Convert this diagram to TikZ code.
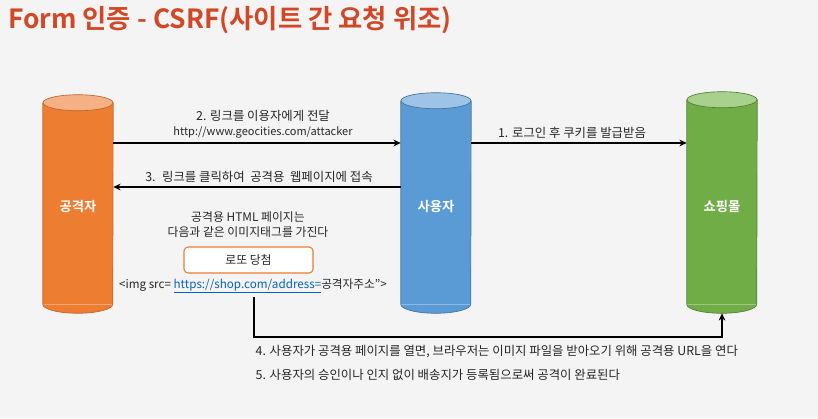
\documentclass[tikz,border=0pt]{standalone}
\usepackage{fontspec}
\setmainfont{Noto Sans CJK KR}[BoldFont={Noto Sans CJK KR Bold}]
\usepackage{tikz}
\usetikzlibrary{calc, positioning, arrows.meta}
\definecolor{bgGray}{HTML}{F4F4F4}
\definecolor{titleRed}{HTML}{D24726}
\definecolor{atkBody}{HTML}{ED7D31}
\definecolor{atkCap}{HTML}{F4B183}
\definecolor{atkLine}{HTML}{C0652A}
\definecolor{usrBody}{HTML}{5B9BD5}
\definecolor{usrCap}{HTML}{9DC3E6}
\definecolor{usrLine}{HTML}{41719C}
\definecolor{shopBody}{HTML}{70AD47}
\definecolor{shopCap}{HTML}{A9D18E}
\definecolor{shopLine}{HTML}{507E32}
\definecolor{linkBlue}{HTML}{0563C1}
\begin{document}
\begin{tikzpicture}[x=0.75pt, y=-0.75pt, >={Stealth[length=5.5pt, width=5pt]},
    font=\fontsize{9.3}{11.25}\selectfont, text=black!85,
    flow/.style={->, line width=0.9pt, black}]
  \fill[bgGray] (0,0) rectangle (818,418);
  \useasboundingbox (0,0) rectangle (818,418);
  % Title
  \node[anchor=west, inner sep=0, text=titleRed, font=\fontsize{19.8}{22}\selectfont\bfseries] (title) at (8,20) {Form 인증 - CSRF(사이트 간 요청 위조)};
  % Cylinders
  \foreach \name/\cx/\ytop/\clr/\lbl in {attacker/78/103/atk/공격자, user/436/101/usr/사용자, shop/722/100/shop/쇼핑몰}{
    \node[fill=\clr Body, inner sep=0, minimum width=52.5pt, minimum height={(304-\ytop)*0.75pt}] (\name) at (\cx, {(\ytop+304)/2}) {};
    \fill[\clr Body] (\name.south west) arc[start angle=180, end angle=0, x radius=35, y radius=9];
    \draw[\clr Line, line width=0.5pt] (\name.north west) -- (\name.south west) arc[start angle=180, end angle=0, x radius=35, y radius=9] -- (\name.north east);
    \draw[\clr Line, fill=\clr Cap, line width=0.5pt] (\name.north) ellipse[x radius=35, y radius=8];
    \node[text=white, font=\fontsize{10}{12}\selectfont\bfseries] (\name-lbl) at (\cx, 207) {\lbl};
  }
  % Messages
  \coordinate (row2) at (0,143);
  \coordinate (row3) at (0,187);
  \coordinate (row4) at (0,337);
  \draw[flow] (attacker.east |- row2) -- (user.west |- row2);
  \draw[flow] (user.east |- row2) -- (shop.west |- row2);
  \draw[flow] (user.west |- row3) -- (attacker.east |- row3);
  \node (msg2a) at (263,116) {2. 링크를 이용자에게 전달};
  \node[font=\fontsize{8.25}{10}\selectfont] (msg2b) at (263,132) {http://www.geocities.com/attacker};
  \node (msg1) at (572,133) {1. 로그인 후 쿠키를 발급받음};
  \node (msg3) at (259,177) {3.~ 링크를 클릭하여~ 공격용~ 웹페이지에 접속};
  % Attack page
  \node[align=center, font=\fontsize{8.9}{11.25}\selectfont] (page) at (248,224.5) {공격용 HTML 페이지는\\다음과 같은 이미지태그를 가진다};
  \node[draw=atkBody, fill=white, rounded corners=3pt, line width=0.8pt, minimum width=96.75pt, minimum height=19.5pt, font=\fontsize{8.9}{10}\selectfont] (banner) at (248.5,260) {로또 당첨};
  \node[font=\fontsize{8.75}{10}\selectfont] (imgtag) at (253,286) {<img src= {\color{linkBlue}\underline{https://shop.com/address=}}공격자주소">};
  \coordinate (tagfoot) at (254,297);
  \coordinate (shop-base) at ($(shop.south)+(0,9)$);
  \draw[flow] (tagfoot) |- (row4 -| shop-base) -- (shop-base);
  \node[anchor=west] (step4) at (251,352) {4. 사용자가 공격용 페이지를 열면, 브라우저는 이미지 파일을 받아오기 위해 공격용 URL을 연다};
  \node[anchor=west] (step5) at (251,375) {5. 사용자의 승인이나 인지 없이 배송지가 등록됨으로써 공격이 완료된다};
\end{tikzpicture}
\end{document}
